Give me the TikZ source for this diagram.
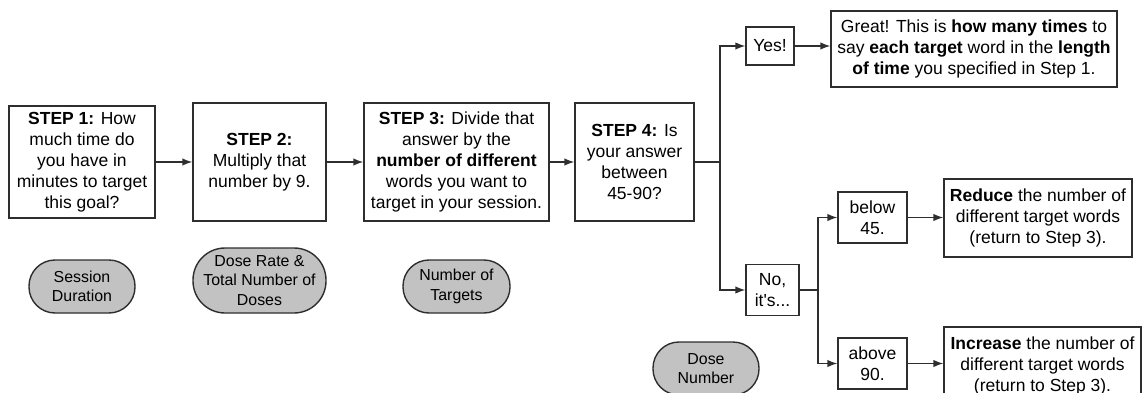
\documentclass[tikz,border=0pt]{standalone}
\usepackage{fontspec}
\setmainfont{Liberation Sans}
\usetikzlibrary{arrows.meta}
\definecolor{pillgray}{HTML}{C2C2C2}
\definecolor{linegray}{HTML}{2E2E2E}

\begin{document}
\begin{tikzpicture}[x=1pt,y=-1pt,
		box/.style={draw=linegray, line width=1.4pt, align=center, inner sep=0pt, font=\fontsize{17.5}{21}\selectfont},
		pill/.style={draw=linegray, fill=pillgray, line width=1.4pt, rounded corners=26pt, align=center, inner sep=0pt, font=\fontsize{15.9}{19.5}\selectfont},
		link/.style={draw=linegray, line width=1.4pt},
		arr/.style={link, -{Latex[length=10pt, width=7.5pt]}}]
		\useasboundingbox (0,0) rectangle (1142,393);
		% steps
		\node[box, minimum width=146pt, minimum height=112pt](step1)at(82,162){\textbf{STEP 1:} How\\much time do\\you have in\\minutes to target\\this goal?};
		\node[box, minimum width=133pt, minimum height=118pt](step2)at(259.5,162){\textbf{STEP 2:}\\Multiply that\\number by 9.};
		\node[box, minimum width=185pt, minimum height=118pt](step3)at(456.5,162){\textbf{STEP 3:} Divide that\\answer by the\\\textbf{number of different}\\words you want to\\target in your session.};
		\node[box, minimum width=119pt, minimum height=118pt](step4)at(634.5,162){\textbf{STEP 4:} Is\\your answer\\between\\45-90?};
		% answers
		\node[box, minimum width=48pt, minimum height=38pt](yes)at(770,46){Yes!};
		\node[box, minimum width=286pt, minimum height=76pt](great)at(974,49){Great! This is \textbf{how many times} to\\say \textbf{each target} word in the \textbf{length}\\\textbf{of time} you specified in Step 1.};
		\node[box, minimum width=53pt, minimum height=51pt](no)at(772.5,290){No,\\it\textquotesingle s...};
		\node[box, minimum width=69pt, minimum height=51pt](below)at(872.5,217.5){below\\45.};
		\node[box, minimum width=69pt, minimum height=51pt](above)at(872.5,363.5){above\\90.};
		\node[box, minimum width=188pt, minimum height=78pt](reduce)at(1038,218){\textbf{Reduce} the number of\\different target words\\(return to Step 3).};
		\node[box, minimum width=197pt, minimum height=78pt](increase)at(1042.5,366){\textbf{Increase} the number of\\different target words\\(return to Step 3).};
		% labels
		\node[pill, minimum width=106pt, minimum height=53pt](session)at(82,286.5){Session\\Duration};
		\node[pill, rounded corners=32pt, minimum width=133pt, minimum height=65pt](doserate)at(259.5,280.5){Dose Rate \&\\Total Number of\\Doses};
		\node[pill, minimum width=107pt, minimum height=53pt](targets)at(456.5,286.5){Number of\\Targets};
		\node[pill, minimum width=106pt, minimum height=53pt](dosenum)at(706,368.5){Dose\\Number};
		\coordinate(fork)at(720,162);
		\coordinate(nofork)at(818,290);
		\draw[arr](step1)--(step2);
		\draw[arr](step2)--(step3);
		\draw[arr](step3)--(step4);
		\draw[link](step4)--(fork);
		\draw[arr](fork)|-(yes);
		\draw[arr](fork)|-(no);
		\draw[arr](yes)--(yes -| great.west);
		\draw[link](no)--(nofork);
		\draw[arr](nofork)|-(below);
		\draw[arr](nofork)|-(above);
		\draw[arr](below)--(below -| reduce.west);
		\draw[arr](above)--(above -| increase.west);
	\end{tikzpicture}
\end{document}
